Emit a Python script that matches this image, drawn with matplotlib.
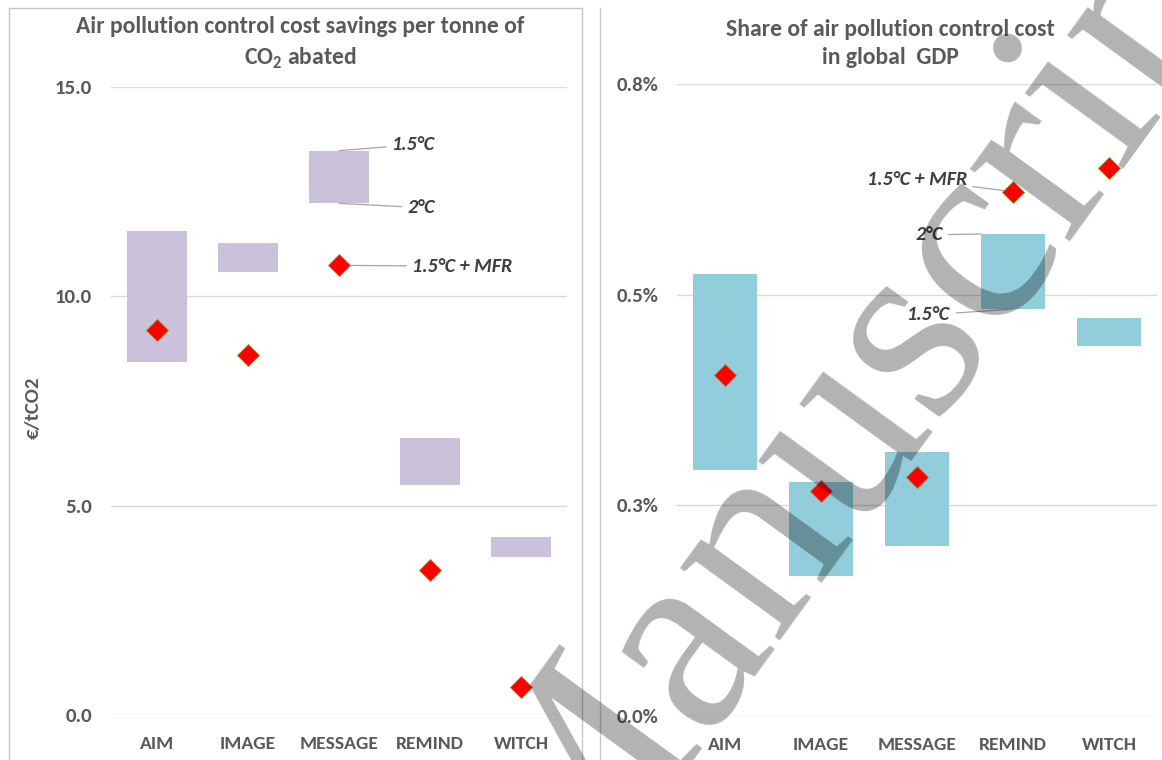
import matplotlib
matplotlib.use("Agg")
import logging
logging.getLogger("matplotlib.font_manager").setLevel(logging.ERROR)
import matplotlib.pyplot as plt
from matplotlib import font_manager
from matplotlib.font_manager import FontProperties
import numpy as np

models = ["AIM", "IMAGE", "MESSAGE", "REMIND", "WITCH"]

# Left panel: air pollution control cost savings (EUR / tCO2)
savings_high = [11.55, 11.27, 13.48, 6.62, 4.25]
savings_low = [8.42, 10.57, 12.22, 5.49, 3.77]
savings_mfr = [9.19, 8.59, 10.74, 3.46, 0.67]

# Right panel: share of air pollution control cost in global GDP (%)
share_high = [0.524, 0.278, 0.313, 0.572, 0.472]
share_low = [0.292, 0.166, 0.202, 0.483, 0.439]
share_mfr = [0.405, 0.267, 0.284, 0.622, 0.650]

left_ticks = [0.0, 5.0, 10.0, 15.0]
left_ticklabels = ["0.0", "5.0", "10.0", "15.0"]
right_ticks = [0.0, 0.25, 0.5, 0.75]
right_ticklabels = ["0.0%", "0.3%", "0.5%", "0.8%"]

W, H = 1162, 760
fig = plt.figure(figsize=(W / 100, H / 100), dpi=100)

GRAY = "#595959"
TXT = "#404040"
GRID = "#d9d9d9"
CAL = ["Carlito", "Lato", "DejaVu Sans"]
SERIF_PREF = ["Tinos", "Liberation Serif", "Times New Roman", "Noto Serif", "PT Serif",
              "Source Serif 4", "Crimson Text", "EB Garamond", "Libre Baskerville",
              "Yrsa", "Zen Old Mincho", "cmr10", "DejaVu Serif"]


def pick_serif():
    fonts = font_manager.fontManager.ttflist
    for name in SERIF_PREF:
        cands = [f for f in fonts if f.name.lower() == name.lower()
                 and f.style == "normal"]
        if cands:
            cands.sort(key=lambda f: abs((f.weight if isinstance(f.weight, int) else 400) - 400))
            return FontProperties(fname=cands[0].fname)
    return FontProperties(family="DejaVu Sans")


def px_axes(x0, x1, ytop, ybot):
    return fig.add_axes([x0 / W, 1 - ybot / H, (x1 - x0) / W, (ybot - ytop) / H])


# panel borders
fig.add_artist(plt.Line2D([9 / W, 9 / W], [0, 1 - 8 / H], color="#c8c8c8", lw=1))
fig.add_artist(plt.Line2D([9 / W, 582 / W], [1 - 8 / H, 1 - 8 / H], color="#c8c8c8", lw=1))
fig.add_artist(plt.Line2D([582 / W, 582 / W], [0, 1 - 8 / H], color="#c8c8c8", lw=1))
fig.add_artist(plt.Line2D([600 / W, 600 / W], [0, 1 - 8 / H], color="#c8c8c8", lw=1))


def style_axes(ax, ticks, ticklabels, ylim):
    x = np.arange(len(models))
    ax.set_xlim(-0.5, len(models) - 0.5)
    ax.set_ylim(*ylim)
    ax.set_yticks(ticks)
    ax.set_yticklabels(ticklabels, fontfamily=CAL, fontweight="bold",
                       fontsize=15, color=GRAY)
    ax.set_xticks(x)
    ax.set_xticklabels(models, fontfamily=CAL, fontweight="bold",
                       fontsize=14, color=GRAY)
    ax.tick_params(axis="both", length=0)
    ax.tick_params(axis="x", pad=15)
    ax.tick_params(axis="y", pad=13.5)
    for s in ax.spines.values():
        s.set_visible(False)
    ax.yaxis.grid(True, color=GRID, lw=1)
    ax.set_axisbelow(True)
    ax.patch.set_alpha(0)


# ---------- left panel ----------
axL = px_axes(111, 567, 87, 715)
x = np.arange(len(models))
axL.bar(x, np.array(savings_high) - np.array(savings_low), bottom=savings_low,
        width=0.66, color="#ccc1da", zorder=2)
axL.plot(x, savings_mfr, linestyle="none", marker="D", markersize=11,
         markerfacecolor="#ff0000", markeredgecolor="#9c8a2c", markeredgewidth=0.6,
         zorder=4, clip_on=False)
style_axes(axL, left_ticks, left_ticklabels, (0, 15))
fig.text(33 / W, 1 - 408 / H, "€/tCO2", rotation=90, ha="center", va="center",
         fontfamily=CAL, fontweight="bold", fontsize=15, color=GRAY)
fig.text(300 / W, 1 - 43.5 / H,
         "Air pollution control cost savings per tonne of\nCO$_\\mathregular{2}$ abated",
         ha="center", va="center", fontfamily=CAL, fontweight="bold",
         fontsize=17, color=GRAY, linespacing=1.45)

ann_kw = dict(fontfamily=CAL, fontweight="bold", fontstyle="italic",
              fontsize=14.5, color=TXT, va="center", ha="left",
              arrowprops=dict(arrowstyle="-", color="#a6a6a6", lw=0.9,
                              shrinkA=2, shrinkB=0))
axL.annotate("1.5°C", xy=(2, savings_high[2]), xytext=(2.58, 13.62), zorder=3, **ann_kw)
axL.annotate("2°C", xy=(2, savings_low[2]), xytext=(2.75, 12.12), zorder=3, **ann_kw)
axL.annotate("1.5°C + MFR", xy=(2, savings_mfr[2]), xytext=(2.8, 10.72), zorder=3, **ann_kw)

# ---------- right panel ----------
axR = px_axes(677, 1157, 84, 716)
axR.bar(x, np.array(share_high) - np.array(share_low), bottom=share_low,
        width=0.667, color="#92cddc", zorder=2)
axR.plot(x, share_mfr, linestyle="none", marker="D", markersize=11,
         markerfacecolor="#ff0000", markeredgecolor="#9c8a2c", markeredgewidth=0.6,
         zorder=4, clip_on=False)
style_axes(axR, right_ticks, right_ticklabels, (0, 0.75))
fig.text(890 / W, 1 - 43.5 / H, "Share of air pollution control cost\nin global  GDP",
         ha="center", va="center", fontfamily=CAL, fontweight="bold",
         fontsize=17, color=GRAY, linespacing=1.45)

axR.annotate("1.5°C + MFR", xy=(3, share_mfr[3]), xytext=(1.48, 0.637), zorder=3, **ann_kw)
axR.annotate("2°C", xy=(3 - 0.33, share_high[3]), xytext=(1.98, 0.571), zorder=3, **ann_kw)
axR.annotate("1.5°C", xy=(3, share_low[3]), xytext=(1.9, 0.476), zorder=3, **ann_kw)

# ---------- watermark ----------
wm_fp = pick_serif()
wm_fp.set_size(194)
fig.text(563 / W, 1 - 929 / H, "Manuscript", rotation=54, rotation_mode="anchor",
         ha="left", va="baseline", fontproperties=wm_fp,
         color="black", alpha=0.30, zorder=10)

fig.savefig("out.png", dpi=100)
